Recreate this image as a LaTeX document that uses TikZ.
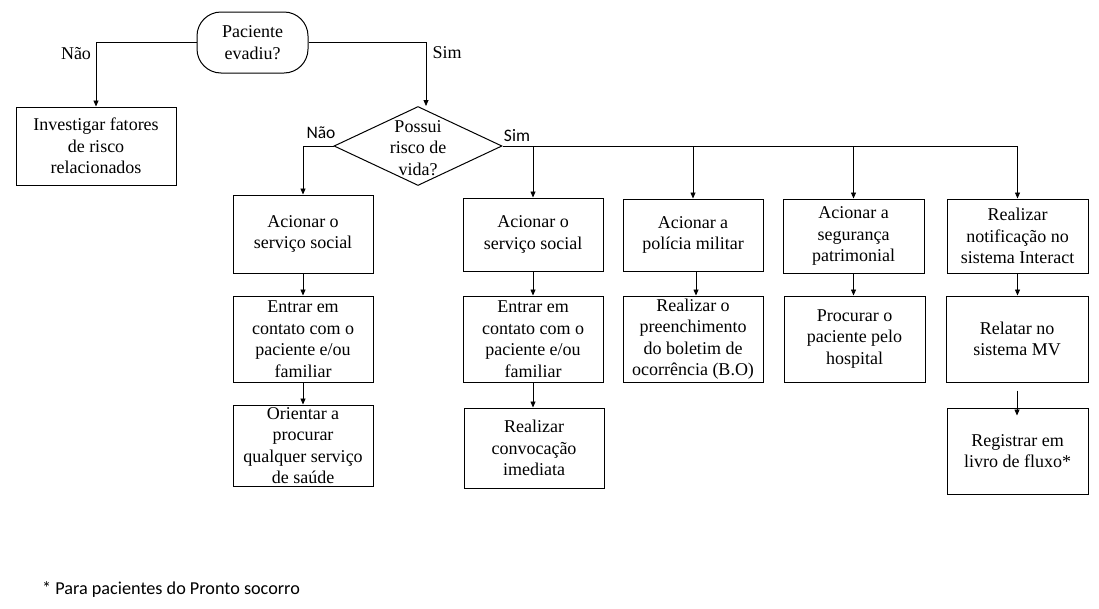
\documentclass[tikz,border=0pt]{standalone}
\usepackage{fontspec}
\setmainfont{Liberation Serif}
\newfontfamily\calibri{Carlito}
\usetikzlibrary{arrows.meta,shapes.geometric}
\begin{document}
\begin{tikzpicture}[x=1pt,y=-1pt,
  boxtxt/.style={font=\fontsize{18}{21.5}\selectfont},
  stepbox/.style={draw=black,line width=1pt,inner sep=0pt,align=center,boxtxt},
  startbox/.style={stepbox,rounded corners=24pt},
  decbox/.style={draw=black,line width=1pt,diamond,inner sep=0pt,aspect=2},
  conn/.style={draw=black,line width=0.8pt},
  arr/.style={conn,-{Triangle[length=6pt,width=5pt]}},
  lblserif/.style={inner sep=0pt,boxtxt},
  lblsans/.style={inner sep=0pt,font=\calibri\fontsize{17.5}{21}\selectfont},
]
\useasboundingbox (0,0) rectangle (1099,608);

% top
\node[startbox,minimum width=111pt,minimum height=61pt] (start) at (252.5,42.5) {Paciente\\evadiu?};
\node[stepbox,minimum width=160pt,minimum height=78pt] (inv) at (96,146) {Investigar fatores\\de risco\\relacionados};
\node[decbox,minimum width=168pt,minimum height=79pt] (d) at (418,146) {};
\node[lblserif,align=center] (dtxt) at (418,148) {Possui\\risco de\\vida?};

% column A
\node[stepbox,minimum width=140pt,minimum height=78pt] (A1) at (303,234) {Acionar o\\serviço social};
\node[stepbox,minimum width=140pt,minimum height=86pt] (A2) at (303,339) {Entrar em\\contato com o\\paciente e/ou\\familiar};
\node[stepbox,minimum width=140pt,minimum height=81pt] (A3) at (303,445.5) {Orientar a\\procurar\\qualquer serviço\\de saúde};
% column B
\node[stepbox,minimum width=140pt,minimum height=73pt] (B1) at (533,234.5) {Acionar o\\serviço social};
\node[stepbox,minimum width=140pt,minimum height=86pt] (B2) at (533,339) {Entrar em\\contato com o\\paciente e/ou\\familiar};
\node[stepbox,minimum width=140pt,minimum height=80pt] (B3) at (534,448) {Realizar\\convocação\\imediata};
% column C
\node[stepbox,minimum width=140pt,minimum height=72pt] (C1) at (693,235) {Acionar a\\polícia militar};
\node[stepbox,minimum width=140pt,minimum height=86pt] (C2) at (693,339) {Realizar o\\preenchimento\\do boletim de\\ocorrência (B.O)};
% column D
\node[stepbox,minimum width=141pt,minimum height=74pt] (D1) at (853.5,236) {Acionar a\\segurança\\patrimonial};
\node[stepbox,minimum width=141pt,minimum height=86pt] (D2) at (854.5,339) {Procurar o\\paciente pelo\\hospital};
% column E
\node[stepbox,minimum width=141pt,minimum height=74pt] (E1) at (1017.5,236) {Realizar\\notificação no\\sistema Interact};
\node[stepbox,minimum width=142pt,minimum height=86pt] (E2) at (1017,339) {Relatar no\\sistema MV};
\node[stepbox,minimum width=141pt,minimum height=86pt] (E3) at (1017.5,451) {Registrar em\\livro de fluxo*};

% labels
\node[lblserif] (lnao1) at (76,54) {Não};
\node[lblserif] (lsim1) at (447,53) {Sim};
\node[lblsans] (lnao2) at (321,133) {Não};
\node[lblsans] (lsim2) at (517,136) {Sim};
\node[lblsans,font=\calibri\fontsize{18.2}{21}\selectfont,anchor=west] (foot) at (42,589) {* Para pacientes do Pronto socorro};

% connectors
\draw[arr] (start.west) -| (inv.north);
\draw[arr] (start.east) -| ([xshift=8pt]d.north);
\draw[arr] (d.west) -| (A1.north);
\draw[arr] (d.east) -| (E1.north);
\draw[arr] (d.east -| B1.north) -- (B1.north);
\draw[arr] (d.east -| C1.north) -- (C1.north);
\draw[arr] (d.east -| D1.north) -- (D1.north);

\draw[arr] (A1.south) -- (A1.south |- A2.north);
\draw[arr] (A2.south) -- (A2.south |- A3.north);
\draw[arr] (B1.south) -- (B1.south |- B2.north);
\draw[arr] (B2.south) -- (B2.south |- B3.north);
\draw[arr] ([xshift=3pt]C1.south) -- ([xshift=3pt]C1.south |- C2.north);
\draw[arr] (D1.south) -- (D1.south |- D2.north);
\draw[arr] (E1.south) -- (E1.south |- E2.north);
\draw[arr] ([yshift=-8pt]E2.south) -- ([yshift=-8pt]E2.south |- E3.north);
\end{tikzpicture}
\end{document}
